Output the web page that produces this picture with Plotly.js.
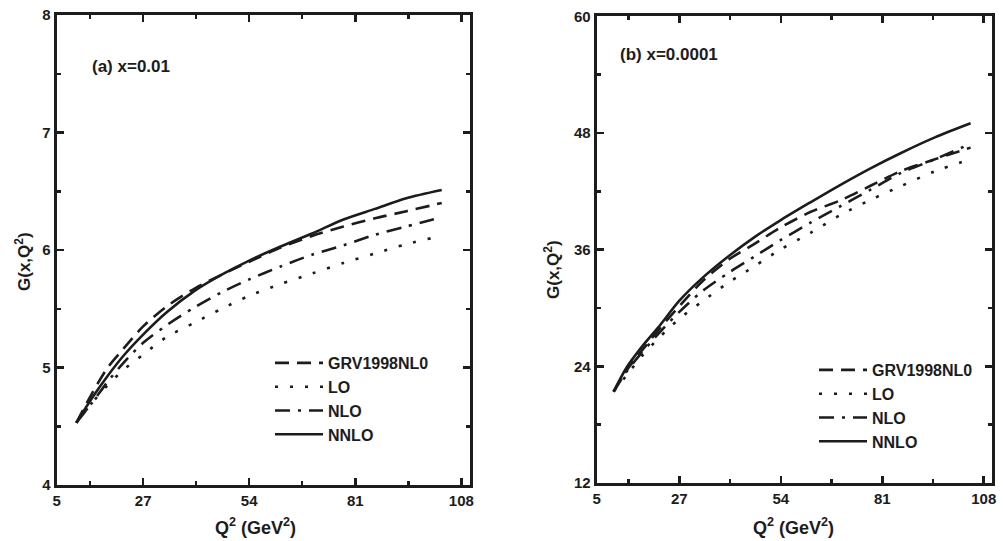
<!DOCTYPE html>
<html>
<head>
<meta charset="utf-8">
<script src="https://cdn.plot.ly/plotly-3.0.1.min.js"></script>
<style>html,body{margin:0;padding:0;background:#fff;}#chart{width:1003px;height:541px;}</style>
</head>
<body>
<div id="chart"></div>
<script>
// Panel (a) x = 0.01
const q2A   = [10, 14, 18, 22, 27, 33, 40, 47, 54, 62, 70, 78, 86, 94, 103];
const grvA  = [4.53, 4.78, 5.00, 5.16, 5.35, 5.52, 5.67, 5.79, 5.90, 6.02, 6.12, 6.20, 6.27, 6.33, 6.40];
const loA   = [4.53, 4.70, 4.85, 4.98, 5.11, 5.26, 5.38, 5.50, 5.61, 5.71, 5.80, 5.89, 5.97, 6.05, 6.12];
const nloA  = [4.53, 4.70, 4.88, 5.04, 5.21, 5.36, 5.51, 5.64, 5.75, 5.86, 5.96, 6.04, 6.13, 6.20, 6.28];
const nnloA = [4.53, 4.74, 4.93, 5.10, 5.28, 5.47, 5.65, 5.79, 5.91, 6.03, 6.14, 6.26, 6.35, 6.44, 6.51];

// Panel (b) x = 0.0001
const q2B   = [9.5, 13, 17, 22, 27, 33, 40, 47, 54, 62, 70, 78, 86, 95, 104.5];
const grvB  = [21.4, 23.6, 25.6, 28.0, 30.2, 32.7, 34.95, 36.6, 38.3, 39.9, 41.1, 42.6, 44.1, 45.3, 46.5];
const loB   = [21.4, 23.1, 25.05, 27.1, 28.9, 30.65, 32.6, 34.3, 36.05, 37.75, 39.6, 41.15, 42.55, 44.07, 45.3];
const nloB  = [21.4, 23.5, 25.4, 27.6, 29.6, 31.7, 33.6, 35.3, 37.0, 38.8, 40.5, 42.2, 43.9, 45.3, 46.9];
const nnloB = [21.4, 23.9, 26.0, 28.3, 30.75, 33.05, 35.3, 37.3, 39.05, 40.9, 42.7, 44.4, 45.95, 47.55, 49.0];

const seriesNames = ["GRV1998NL0", "LO", "NLO", "NNLO"];
const xTicks = [5, 27, 54, 81, 108];
const xMinor = [13.5, 40.5, 67.5, 94.5];
const yTicksA = [4, 5, 6, 7, 8];
const yMinorA = [4.5, 5.5, 6.5, 7.5];
const yTicksB = [12, 24, 36, 48, 60];
const yMinorB = [18, 30, 42, 54];
const xTitle = "Q<sup>2</sup> (GeV<sup>2</sup>)";
const yTitle = "G(x,Q<sup>2</sup>)";
const panelLabels = ["(a) x=0.01", "(b) x=0.0001"];

const INK = "#1c1c1c";
const FONT = "Liberation Sans, Arial, sans-serif";
const dashes = ["14px,8px", "3px,12px", "15px,8px,3px,8px", "solid"];

function mk(x, y, i, xa, ya, leg) {
  return {
    x: x, y: y, xaxis: xa, yaxis: ya, type: "scatter", mode: "lines",
    name: seriesNames[i], legend: leg,
    line: {color: INK, width: 2.6, dash: dashes[i], shape: "spline", smoothing: 0.8}
  };
}

const data = [
  mk(q2A, grvA, 0, "x", "y", "legend"),
  mk(q2A, loA, 1, "x", "y", "legend"),
  mk(q2A, nloA, 2, "x", "y", "legend"),
  mk(q2A, nnloA, 3, "x", "y", "legend"),
  mk(q2B, grvB, 0, "x2", "y2", "legend2"),
  mk(q2B, loB, 1, "x2", "y2", "legend2"),
  mk(q2B, nloB, 2, "x2", "y2", "legend2"),
  mk(q2B, nnloB, 3, "x2", "y2", "legend2")
];

const W = 1003, H = 541;
function xax(domain, anchor) {
  return {
    domain: domain, anchor: anchor, range: [5, 110.2], autorange: false,
    tickmode: "array", tickvals: xTicks, ticktext: xTicks.map(String),
    ticks: "inside", ticklen: 7, tickwidth: 2.5, tickcolor: INK,
    minor: {tickmode: "array", tickvals: xMinor, ticks: "inside", ticklen: 4, tickwidth: 2.5, tickcolor: INK},
    showline: true, linewidth: 3, linecolor: INK, mirror: "ticks",
    showgrid: false, zeroline: false, automargin: false,
    tickfont: {family: FONT, size: 15, color: INK, weight: "bold"}
  };
}
function yax(domain, anchor, range, ticks, minor) {
  return {
    domain: domain, anchor: anchor, range: range, autorange: false,
    tickmode: "array", tickvals: ticks, ticktext: ticks.map(String),
    ticks: "inside", ticklen: 7, tickwidth: 2.5, tickcolor: INK,
    minor: {tickmode: "array", tickvals: minor, ticks: "inside", ticklen: 4, tickwidth: 2.5, tickcolor: INK},
    showline: true, linewidth: 3, linecolor: INK, mirror: "ticks",
    showgrid: false, zeroline: false, automargin: false,
    tickfont: {family: FONT, size: 15, color: INK, weight: "bold"}
  };
}

const legendBase = {
  bgcolor: "rgba(0,0,0,0)", borderwidth: 0, xanchor: "left", yanchor: "top",
  itemwidth: 48, tracegroupgap: 0,
  font: {family: FONT, size: 16, color: INK, weight: "bold"}
};

function txt(text, px, py, size, anchor, angle) {
  return {text: text, xref: "paper", yref: "paper", x: px / W, y: 1 - py / H,
    xanchor: anchor, yanchor: "middle", showarrow: false, textangle: angle || 0,
    font: {family: FONT, size: size, color: INK, weight: "bold"}};
}

const layout = {
  width: W, height: H,
  margin: {l: 0, r: 0, t: 0, b: 0, pad: 0, autoexpand: false},
  paper_bgcolor: "#fff", plot_bgcolor: "#fff",
  showlegend: true,
  xaxis: xax([56.7 / W, 470 / W], "y"),
  yaxis: yax([(H - 485) / H, (H - 15) / H], "x", [4, 8], yTicksA, yMinorA),
  xaxis2: xax([596.7 / W, 992 / W], "y2"),
  yaxis2: yax([(H - 483) / H, (H - 16.4) / H], "x2", [12, 60], yTicksB, yMinorB),
  legend: Object.assign({}, legendBase, {x: 270 / W, y: 1 - 346 / H}),
  legend2: Object.assign({}, legendBase, {x: 814 / W, y: 1 - 353 / H}),
  annotations: [
    txt(panelLabels[0], 90, 66, 17, "left"),
    txt(panelLabels[1], 618, 55, 17, "left"),
    txt(xTitle, 255, 526, 18, "center"),
    txt(xTitle, 793, 526, 18, "center"),
    txt(yTitle, 23, 262, 17, "center", -90),
    txt(yTitle, 552, 270, 17, "center", -90)
  ]
};

Plotly.newPlot("chart", data, layout, {displayModeBar: false, staticPlot: true});
</script>
</body>
</html>
